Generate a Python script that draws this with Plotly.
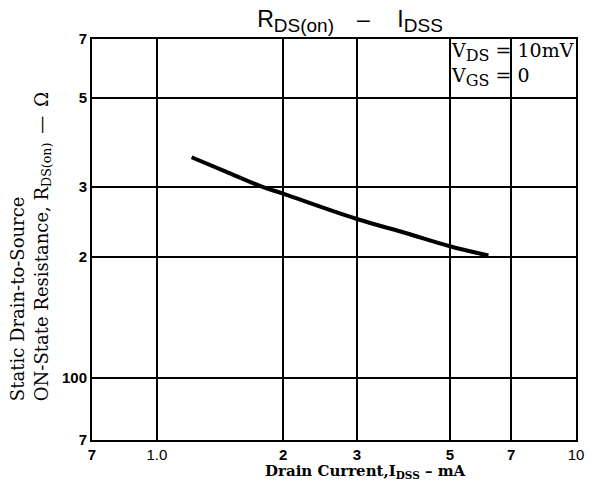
import plotly.graph_objects as go
import numpy as np

# Data (I_DSS in mA, R_DS(on) in ohms)
idss_ma = [1.21, 1.46, 1.78, 2.0, 3.0, 3.94, 5.0, 6.18]
rds_on = [355, 327, 300, 288, 249, 229.5, 213, 202]

x_tickvals = [0.7, 1.0, 2, 3, 5, 7, 10]
x_ticktext = ["<b>7</b>", "1.0", "<b>2</b>", "<b>3</b>", "<b>5</b>", "<b>7</b>", "10"]
y_tickvals = [70, 100, 200, 300, 500, 700]
y_ticktext = ["<b>7</b>", "<b>100</b>", "<b>2</b>", "<b>3</b>", "<b>5</b>", "<b>7</b>"]

L, R, T, B = 92, 15, 39, 50
W, H = 596, 490
PW, PH = W - L - R, H - T - B

def px(xp):
    return (xp - L) / PW

def py(yp):
    return (H - B - yp) / PH

fig = go.Figure()
fig.add_trace(go.Scatter(x=idss_ma, y=rds_on, mode="lines",
                         line=dict(color="black", width=4, shape="spline"),
                         showlegend=False, hoverinfo="skip"))

fig.update_layout(
    width=W, height=H,
    margin=dict(l=L, r=R, t=T, b=B),
    paper_bgcolor="white", plot_bgcolor="white",
    title=dict(text="R<sub><span style='font-size:19px'>DS(on)</span></sub>"
                    "\u2002\u2002\u2013\u2002\u2002\u2009I<sub><span style='font-size:19px'>DSS</span></sub>",
               x=350 / W, xanchor="center",
               y=1 - 19 / H, yanchor="middle",
               font=dict(family="Liberation Sans, Arial", size=23, color="black")),
)

fig.update_xaxes(type="log", range=[np.log10(0.7), 1.0],
                 tickvals=x_tickvals, ticktext=x_ticktext,
                 showgrid=True, gridcolor="black", gridwidth=1.5,
                 showline=True, linecolor="black", linewidth=2, mirror=True,
                 ticks="", zeroline=False,
                 tickfont=dict(family="Liberation Sans, Arial", size=15, color="black"))
fig.update_yaxes(type="log", range=[np.log10(70), np.log10(700)],
                 tickvals=y_tickvals, ticktext=y_ticktext,
                 showgrid=True, gridcolor="black", gridwidth=1.5,
                 showline=True, linecolor="black", linewidth=2, mirror=True,
                 ticks="", zeroline=False, ticklabelstandoff=0,
                 tickfont=dict(family="Liberation Sans, Arial", size=15, color="black"))

# Y axis title (two left-aligned rotated lines)
fig.add_annotation(text="Static Drain-to-Source<br>ON-State Resistance, R<sub>DS(on)</sub>\u2002\u2014\u2002\u03a9",
                   textangle=-90, align="left",
                   xref="paper", yref="paper",
                   x=px(30), xanchor="center",
                   y=py(403), yanchor="bottom",
                   showarrow=False,
                   font=dict(family="DejaVu Serif, Liberation Serif", size=18, color="black"))

# X axis title
fig.add_annotation(text="<b>Drain Current,I<sub>DSS</sub> \u2013 mA</b>",
                   xref="paper", yref="paper",
                   x=px(368), xanchor="center",
                   y=py(471), yanchor="middle",
                   showarrow=False,
                   font=dict(family="DejaVu Serif, Liberation Serif", size=15, color="black"))

# Conditions box
fig.add_annotation(text="V<sub><span style='font-size:16px'>DS</span></sub> = 10mV<br>"
                        "V<sub><span style='font-size:16px'>GS</span></sub> = 0",
                   align="left",
                   xref="paper", yref="paper",
                   x=px(453), xanchor="left",
                   y=py(37), yanchor="top",
                   showarrow=False,
                   font=dict(family="DejaVu Serif, Liberation Serif", size=19, color="black"))

fig.write_html("out.html", config={"displayModeBar": False},
               post_script="document.body.style.margin='0';")
